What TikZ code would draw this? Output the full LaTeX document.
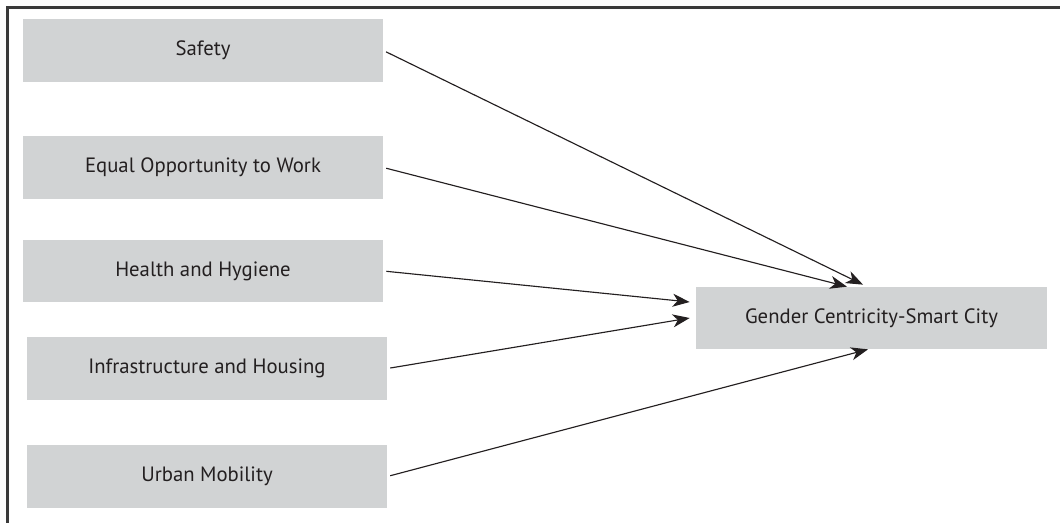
\documentclass[tikz,border=0pt]{standalone}
\usepackage{fontspec}
\setmainfont{PT Sans}
\usetikzlibrary{arrows.meta}

\definecolor{boxgray}{HTML}{D1D3D4}
\definecolor{inkgray}{HTML}{231F20}
\definecolor{framegray}{HTML}{3A3A3A}

\begin{document}
\begin{tikzpicture}[x=0.02cm, y=-0.02cm,
    factor/.style={fill=boxgray, text=inkgray, inner sep=0pt,
        minimum width=7.2cm, minimum height=1.26cm,
        font=\fontsize{11.8}{13}\selectfont},
    link/.style={-{Stealth[length=3.4mm, width=2.6mm, inset=1mm]},
        line width=0.65pt, inkgray, shorten <=0.06cm}]

        \useasboundingbox (0,0) rectangle (1060,523);

        % ==========================================
        % Marco
        % ==========================================
        \draw[framegray, line width=1.4pt] (7.5,540) -- (7.5,7.5) -- (1080,7.5);

        % ==========================================
        % Factores
        % ==========================================
        \node[factor] (safety)   at (203,50.5)  {Safety};
        \node[factor] (equal)    at (203,167.5) {Equal Opportunity to Work};
        \node[factor] (health)   at (203,271)   {Health and Hygiene};
        \node[factor] (infra)    at (207,368.5) {Infrastructure and Housing};
        \node[factor] (mobility) at (207,476.5) {Urban Mobility};

        % Resultado
        \node[factor, minimum width=7.02cm, minimum height=1.24cm]
            (gcsc) at (871.5,318) {Gender Centricity-Smart City};

        % ==========================================
        % Flechas
        % ==========================================
        \draw[link] (safety.east)   -- ([xshift=-0.17cm, yshift=0.04cm]gcsc.north);
        \draw[link] (equal.east)    -- ([xshift=-0.49cm]gcsc.north);
        \draw[link] (health.east)   -- ([xshift=-0.12cm, yshift=0.32cm]gcsc.west);
        \draw[link] (infra.east)    -- ([xshift=-0.12cm]gcsc.west);
        \draw[link] (mobility.east) -- ([xshift=-0.07cm]gcsc.south);

\end{tikzpicture}
\end{document}
